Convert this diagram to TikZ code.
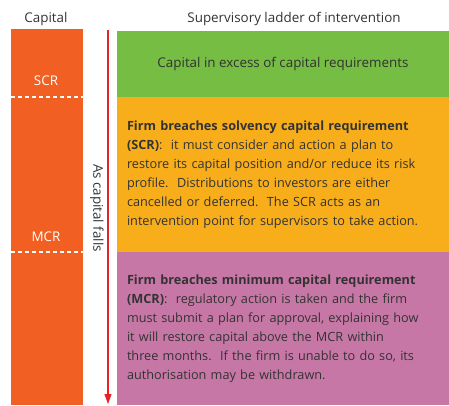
\documentclass[tikz,border=0pt]{standalone}
\usepackage{fontspec}
\setmainfont{Open Sans}
\usetikzlibrary{arrows.meta, positioning}

\definecolor{caporange}{HTML}{F15F22}
\definecolor{excessgreen}{HTML}{75BD43}
\definecolor{scramber}{HTML}{F8AE1B}
\definecolor{mcrpink}{HTML}{C777A6}
\definecolor{fallred}{HTML}{E8202A}
\definecolor{inkgrey}{HTML}{333333}

\begin{document}
\begin{tikzpicture}[
    x=1pt, y=-1pt,
    font=\fontsize{12.7}{18.9}\selectfont,
    head/.style={text=inkgrey, font=\fontsize{13.4}{15}\selectfont},
    band/.style={rectangle, minimum width=332pt, inner sep=0pt, text=inkgrey},
    blurb/.style={band, align=left, text width=312pt},
    level/.style={text=white, font=\fontsize{13.4}{15}\selectfont},
    levelline/.style={white, dashed, dash pattern=on 4pt off 3pt, line width=1.2pt},
    arrow/.style={-{Triangle[width=7pt,length=10pt]}, fallred, line width=1.1pt},
    ]
    \useasboundingbox (0,0) rectangle (449,405);

    % Capital column
    \fill[caporange] (11,29) rectangle (83,405);
    \coordinate (scrL) at (11,97);  \coordinate (scrR) at (83,97);
    \coordinate (mcrL) at (11,252); \coordinate (mcrR) at (83,252);
    \draw[levelline] (scrL) -- (scrR);
    \draw[levelline] (mcrL) -- (mcrR);
    \node[level] (scr) at (46,81) {SCR};
    \node[level] (mcr) at (46,237) {MCR};

    % Headers
    \node[head] (capital) at (46,19) {Capital};
    \node[head] (ladder) at (294,19) {Supervisory ladder of intervention};

    % Ladder of intervention
    \node[band, fill=excessgreen, minimum height=66pt, font=\fontsize{13.4}{15}\selectfont] (excess) at (283,64)
        {Capital in excess of capital requirements};
    \node[blurb, fill=scramber, minimum height=155pt] (scrbox) at (283,174.5)
        {\textbf{Firm breaches solvency capital requirement}\\
         \textbf{(SCR)}:\ \ it must consider and action a plan to\\
         restore its capital position and/or reduce its risk\\
         profile.\ \ Distributions to investors are either\\
         cancelled or deferred.\ \ The SCR acts as an\\
         intervention point for supervisors to take action.};
    \node[blurb, fill=mcrpink, minimum height=153pt] (mcrbox) at (283,328.5)
        {\textbf{Firm breaches minimum capital requirement}\\
         \textbf{(MCR)}:\ \ regulatory action is taken and the firm\\
         must submit a plan for approval, explaining how\\
         it will restore capital above the MCR within\\
         three months.\ \ If the firm is unable to do so, its\\
         authorisation may be withdrawn.};

    % Falling capital arrow
    \coordinate (falltop) at (108,30);
    \coordinate (fallend) at (108,404);
    \draw[arrow] (falltop) -- (fallend);
    \node[head, rotate=-90] (falls) at (97,208) {As capital falls};
\end{tikzpicture}
\end{document}
